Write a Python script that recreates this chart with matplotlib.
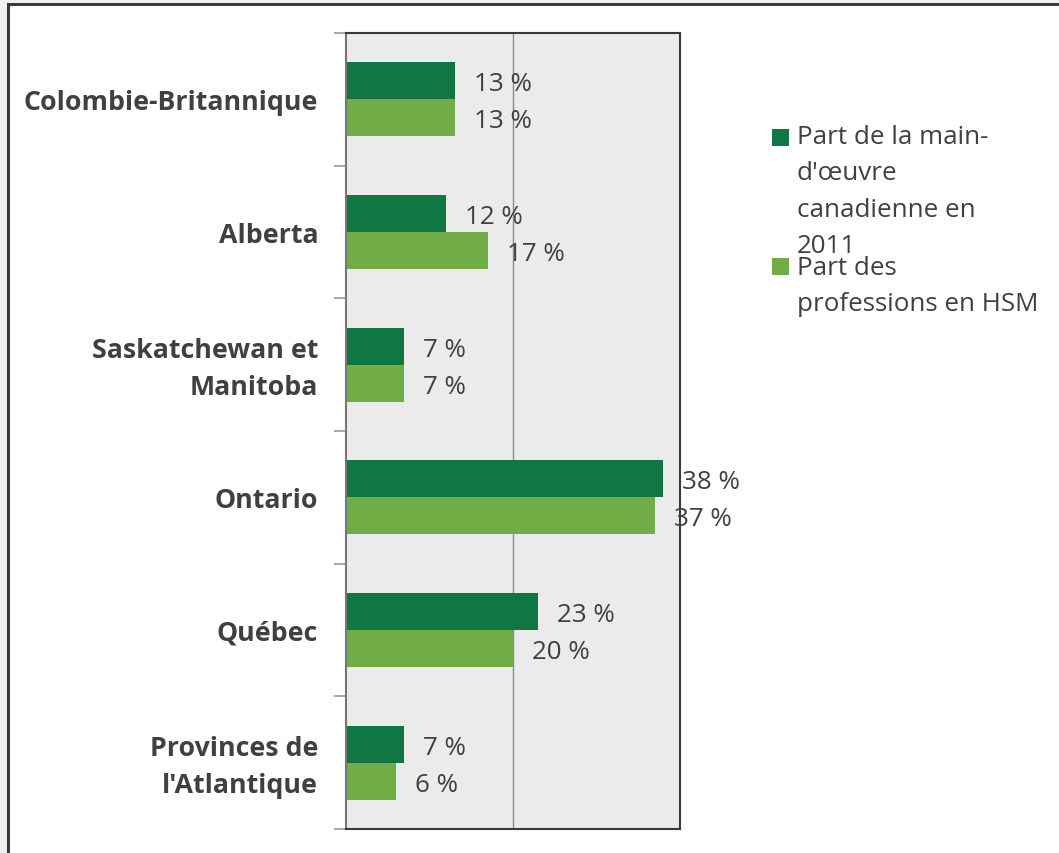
import matplotlib.pyplot as plt
from matplotlib.patches import Rectangle
from matplotlib.transforms import ScaledTranslation

# data
regions = ["Colombie-Britannique", "Alberta", "Saskatchewan et\nManitoba",
           "Ontario", "Québec", "Provinces de\nl'Atlantique"]
main_oeuvre = [13, 12, 7, 38, 23, 7]
hsm = [13, 17, 7, 37, 20, 6]
legend_labels = ["Part de la main-\nd'œuvre\ncanadienne en\n2011",
                 "Part des\nprofessions en HSM"]

dark = "#0e7742"
light = "#70ad47"
txt = "#404040"
fs = 18.7

plt.rcParams["font.family"] = ["Open Sans", "DejaVu Sans"]

W, H = 1059, 854
fig = plt.figure(figsize=(W / 100, H / 100), dpi=100, facecolor="#f0f0f0")

# outer frame
fig.patches.append(Rectangle((8 / W, -0.1), 1.2, 1.1 - 5 / H, transform=fig.transFigure,
                             facecolor="white", edgecolor="#3a3a3a", lw=2.2, zorder=-5))

ax = fig.add_axes([346 / W, 1 - 830 / H, 334 / W, 796 / H])
ax.set_facecolor("#ebebeb")

ypos = list(range(len(regions)))
bh = 0.28
ax.barh([y - bh / 2 for y in ypos], main_oeuvre, height=bh, color=dark, zorder=2)
ax.barh([y + bh / 2 for y in ypos], hsm, height=bh, color=light, zorder=2)

for y, v in zip(ypos, main_oeuvre):
    ax.annotate(f"{v} %", (v, y - bh / 2), xytext=(19, -3), textcoords="offset pixels",
                va="center", ha="left", fontsize=fs, color=txt, zorder=3)
for y, v in zip(ypos, hsm):
    ax.annotate(f"{v} %", (v, y + bh / 2), xytext=(19, -3), textcoords="offset pixels",
                va="center", ha="left", fontsize=fs, color=txt, zorder=3)

ax.set_xlim(0, 40)
ax.set_ylim(len(regions) - 0.5, -0.5)
ax.axvline(20, color="#8a8a8a", lw=1, zorder=1)
ax.set_xticks([])

ax.set_yticks(ypos)
ax.set_yticklabels(regions, fontsize=19.3, fontweight="bold", color=txt, linespacing=1.55)
ax.tick_params(axis="y", which="major", length=0, pad=20)
ax.set_yticks([y - 0.5 for y in range(len(regions) + 1)], minor=True)
ax.tick_params(axis="y", which="minor", length=9, color="#aaaaaa", width=1.5)

# two-line labels sit a little higher in the original
for lbl in ax.get_yticklabels():
    if "\n" in lbl.get_text():
        lbl.set_transform(lbl.get_transform() + ScaledTranslation(0, 0.05, fig.dpi_scale_trans))

for s in ["top", "right", "bottom"]:
    ax.spines[s].set_color("#3a3a3a")
    ax.spines[s].set_linewidth(1.5)
ax.spines["left"].set_color("#777777")
ax.spines["left"].set_linewidth(1.5)

# legend drawn by hand to mirror the overlapping wrap
for (col, lab, ytop, ybox) in [(dark, legend_labels[0], 125, 130),
                               (light, legend_labels[1], 256, 259)]:
    fig.patches.append(Rectangle((772 / W, 1 - (ybox + 17) / H), 17 / W, 17 / H,
                                 transform=fig.transFigure, facecolor=col, edgecolor="none"))
    fig.text(797 / W, 1 - ytop / H, lab, fontsize=fs, color=txt, va="top", ha="left",
             linespacing=1.6)

fig.savefig("out.png", dpi=100, facecolor=fig.get_facecolor())
